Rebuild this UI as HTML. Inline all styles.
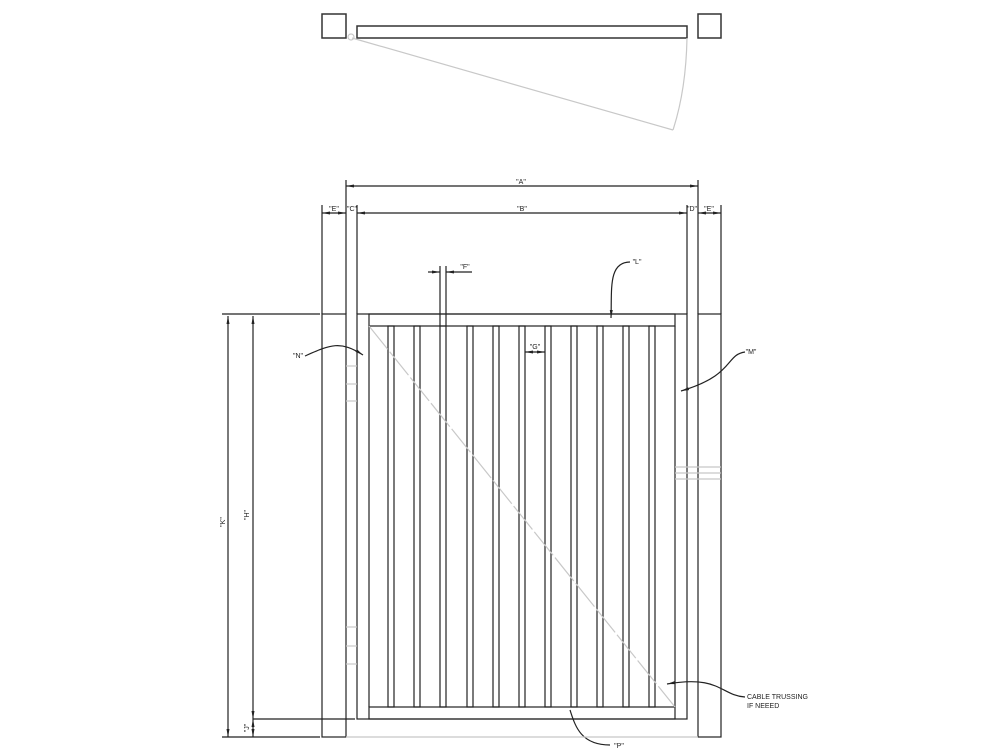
<!DOCTYPE html>
<html><head><meta charset="utf-8"><style>
html,body{margin:0;padding:0;background:#fff;}
svg{display:block;}
text{font-family:"Liberation Sans",sans-serif;font-size:7px;fill:#222;}
</style></head><body>
<svg width="1000" height="750" viewBox="0 0 1000 750" xmlns="http://www.w3.org/2000/svg">
<defs>
<marker id="ar" markerWidth="8" markerHeight="6" refX="8" refY="3" orient="auto-start-reverse" markerUnits="userSpaceOnUse"><path d="M0,1.5 L8,3 L0,4.5z" fill="#222"/></marker>
</defs>
<g fill="none" stroke="#333" stroke-width="1.5">
<!-- top plan view -->
<rect x="322" y="14" width="24" height="24"/>
<rect x="698" y="14" width="23" height="24"/>
<rect x="357" y="26" width="330" height="12"/>
</g>
<g fill="none" stroke="#c8c8c8" stroke-width="1.2">
<circle cx="351" cy="37" r="3"/>
<path d="M352,38 L673,130"/>
<path d="M687,38 Q686,90 673,130"/>
</g>

<g fill="none" stroke="#222" stroke-width="1.2">
<!-- extension lines -->
<line x1="346" y1="180" x2="346" y2="314"/>
<line x1="698" y1="180" x2="698" y2="314"/>
<line x1="322" y1="205" x2="322" y2="314"/>
<line x1="357" y1="205" x2="357" y2="314"/>
<line x1="687" y1="205" x2="687" y2="314"/>
<line x1="721" y1="205" x2="721" y2="314"/>
<!-- dims A,B,E,C,D -->
<line x1="346" y1="186" x2="698" y2="186" marker-start="url(#ar)" marker-end="url(#ar)"/>
<line x1="357" y1="213" x2="687" y2="213" marker-start="url(#ar)" marker-end="url(#ar)"/>
<line x1="322" y1="213" x2="346" y2="213" marker-start="url(#ar)" marker-end="url(#ar)"/>
<line x1="698" y1="213" x2="721" y2="213" marker-start="url(#ar)" marker-end="url(#ar)"/>
<!-- posts -->
<rect x="322" y="314" width="24" height="423"/>
<rect x="698" y="314" width="23" height="423"/>
<!-- gate frame -->
<rect x="357" y="314" width="330" height="405"/>
<rect x="369" y="314" width="306" height="12"/>
<line x1="369" y1="326" x2="369" y2="707"/>
<line x1="675" y1="326" x2="675" y2="707"/>
<rect x="369" y="707" width="306" height="12"/>
<!-- F extension -->
<line x1="440" y1="266" x2="440" y2="326"/>
<line x1="446" y1="266" x2="446" y2="326"/>
<line x1="428" y1="272" x2="440" y2="272" marker-end="url(#ar)"/>
<line x1="472" y1="272" x2="446" y2="272" marker-end="url(#ar)"/>
<!-- K, H, J -->
<line x1="222" y1="314" x2="320" y2="314"/>
<line x1="222" y1="737" x2="320" y2="737"/>
<line x1="253" y1="719" x2="355" y2="719"/>
<line x1="228" y1="316" x2="228" y2="737" marker-start="url(#ar)" marker-end="url(#ar)"/>
<line x1="253" y1="316" x2="253" y2="719" marker-start="url(#ar)" marker-end="url(#ar)"/>
<line x1="253" y1="719" x2="253" y2="737" marker-start="url(#ar)" marker-end="url(#ar)"/>
<!-- G dim -->
<line x1="525" y1="352" x2="545" y2="352" marker-start="url(#ar)" marker-end="url(#ar)"/>
<!-- pickets -->
<g>
<rect x="388" y="326" width="6" height="381"/>
<rect x="414" y="326" width="6" height="381"/>
<rect x="440" y="326" width="6" height="381"/>
<rect x="467" y="326" width="6" height="381"/>
<rect x="493" y="326" width="6" height="381"/>
<rect x="519" y="326" width="6" height="381"/>
<rect x="545" y="326" width="6" height="381"/>
<rect x="571" y="326" width="6" height="381"/>
<rect x="597" y="326" width="6" height="381"/>
<rect x="623" y="326" width="6" height="381"/>
<rect x="649" y="326" width="6" height="381"/>
</g>
<!-- leaders -->
<path d="M305,356 C330,345 340,340 363,355" marker-end="url(#ar)"/>
<path d="M630,262 C608,262 612,290 611,318" marker-end="url(#ar)"/>
<path d="M745,352 C725,355 735,375 681,391" marker-end="url(#ar)"/>
<path d="M570,710 C575,725 580,745 610,745"/>
<path d="M745,697 C720,695 720,675 667,684" marker-end="url(#ar)"/>
</g>
<g stroke="#c8c8c8" stroke-width="1.2" fill="none">
<line x1="346" y1="737" x2="698" y2="737"/>
<line x1="369" y1="326" x2="675" y2="707" stroke-dasharray="30,3"/>
<line x1="346" y1="366" x2="357" y2="366"/>
<line x1="346" y1="384" x2="357" y2="384"/>
<line x1="346" y1="401" x2="357" y2="401"/>
<line x1="346" y1="627" x2="357" y2="627"/>
<line x1="346" y1="646" x2="357" y2="646"/>
<line x1="346" y1="664" x2="357" y2="664"/>
<line x1="675" y1="467" x2="721" y2="467"/>
<line x1="675" y1="473" x2="721" y2="473"/>
<line x1="675" y1="479" x2="721" y2="479"/>
</g>
<!-- labels -->
<text x="521" y="184" text-anchor="middle">"A"</text>
<text x="522" y="211" text-anchor="middle">"B"</text>
<text x="334" y="211" text-anchor="middle">"E"</text>
<text x="352" y="211" text-anchor="middle">"C"</text>
<text x="692" y="211" text-anchor="middle">"D"</text>
<text x="709" y="211" text-anchor="middle">"E"</text>
<text x="465" y="269" text-anchor="middle">"F"</text>
<text x="637" y="264" text-anchor="middle">"L"</text>
<text x="535" y="349" text-anchor="middle">"G"</text>
<text x="298" y="358" text-anchor="middle">"N"</text>
<text x="751" y="354" text-anchor="middle">"M"</text>
<text x="619" y="748" text-anchor="middle">"P"</text>
<text x="747" y="699">CABLE TRUSSING</text>
<text x="747" y="708">IF NEEED</text>
<text transform="translate(225,522) rotate(-90)" text-anchor="middle">"K"</text>
<text transform="translate(249,515) rotate(-90)" text-anchor="middle">"H"</text>
<text transform="translate(249,728) rotate(-90)" text-anchor="middle">"J"</text>
</svg>
</body></html>
